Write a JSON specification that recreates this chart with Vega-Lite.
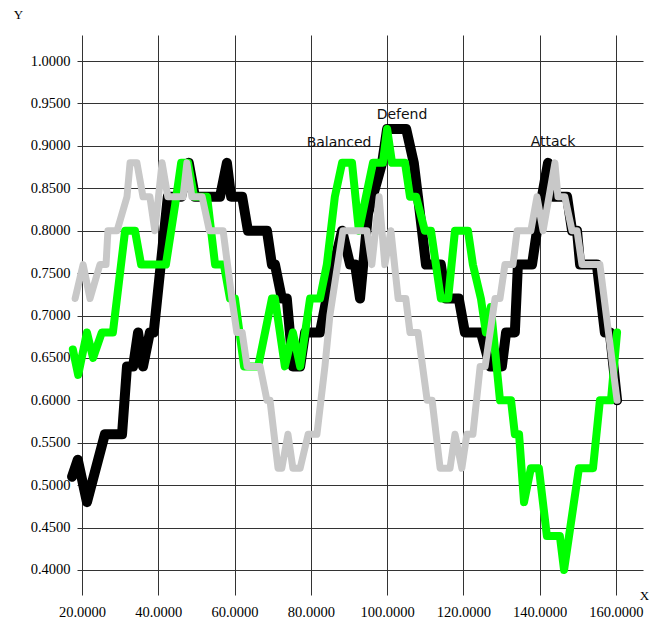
{
  "$schema": "https://vega.github.io/schema/vega-lite/v6.json",
  "width": 566,
  "height": 560,
  "autosize": {"type": "none"},
  "padding": {"left": 77, "top": 35, "right": 13, "bottom": 28},
  "background": "white",
  "config": {"view": {"stroke": null}},
  "datasets": {
    "lines": [
      {"s": "Defend", "x": 17.4, "y": 0.51}, {"s": "Defend", "x": 18.9, "y": 0.53}, {"s": "Defend", "x": 21.3, "y": 0.48}, {"s": "Defend", "x": 26.0, "y": 0.56}, {"s": "Defend", "x": 30.5, "y": 0.56}, {"s": "Defend", "x": 31.8, "y": 0.64}, {"s": "Defend", "x": 33.4, "y": 0.64}, {"s": "Defend", "x": 34.7, "y": 0.68}, {"s": "Defend", "x": 36.0, "y": 0.64}, {"s": "Defend", "x": 37.8, "y": 0.68}, {"s": "Defend", "x": 38.8, "y": 0.68}, {"s": "Defend", "x": 42.5, "y": 0.84}, {"s": "Defend", "x": 46.0, "y": 0.84}, {"s": "Defend", "x": 48.0, "y": 0.88}, {"s": "Defend", "x": 49.6, "y": 0.84}, {"s": "Defend", "x": 56.2, "y": 0.84}, {"s": "Defend", "x": 58.0, "y": 0.88}, {"s": "Defend", "x": 59.1, "y": 0.84}, {"s": "Defend", "x": 62.0, "y": 0.84}, {"s": "Defend", "x": 63.5, "y": 0.80}, {"s": "Defend", "x": 68.5, "y": 0.80}, {"s": "Defend", "x": 69.8, "y": 0.76}, {"s": "Defend", "x": 70.6, "y": 0.76}, {"s": "Defend", "x": 72.4, "y": 0.72}, {"s": "Defend", "x": 73.7, "y": 0.72}, {"s": "Defend", "x": 75.3, "y": 0.64}, {"s": "Defend", "x": 77.2, "y": 0.64}, {"s": "Defend", "x": 78.5, "y": 0.68}, {"s": "Defend", "x": 82.4, "y": 0.68}, {"s": "Defend", "x": 85.0, "y": 0.74}, {"s": "Defend", "x": 88.2, "y": 0.80}, {"s": "Defend", "x": 90.3, "y": 0.76}, {"s": "Defend", "x": 91.6, "y": 0.76}, {"s": "Defend", "x": 92.9, "y": 0.72}, {"s": "Defend", "x": 95.0, "y": 0.82}, {"s": "Defend", "x": 98.7, "y": 0.88}, {"s": "Defend", "x": 100.0, "y": 0.92}, {"s": "Defend", "x": 105.0, "y": 0.92}, {"s": "Defend", "x": 107.0, "y": 0.88}, {"s": "Defend", "x": 108.1, "y": 0.84}, {"s": "Defend", "x": 110.2, "y": 0.76}, {"s": "Defend", "x": 114.1, "y": 0.76}, {"s": "Defend", "x": 115.4, "y": 0.72}, {"s": "Defend", "x": 118.8, "y": 0.72}, {"s": "Defend", "x": 120.4, "y": 0.68}, {"s": "Defend", "x": 124.6, "y": 0.68}, {"s": "Defend", "x": 127.0, "y": 0.64}, {"s": "Defend", "x": 130.1, "y": 0.64}, {"s": "Defend", "x": 131.2, "y": 0.68}, {"s": "Defend", "x": 133.5, "y": 0.68}, {"s": "Defend", "x": 134.3, "y": 0.76}, {"s": "Defend", "x": 138.0, "y": 0.76}, {"s": "Defend", "x": 139.3, "y": 0.80}, {"s": "Defend", "x": 140.6, "y": 0.84}, {"s": "Defend", "x": 142.2, "y": 0.88}, {"s": "Defend", "x": 143.5, "y": 0.84}, {"s": "Defend", "x": 147.2, "y": 0.84}, {"s": "Defend", "x": 148.5, "y": 0.80}, {"s": "Defend", "x": 149.8, "y": 0.80}, {"s": "Defend", "x": 150.6, "y": 0.76}, {"s": "Defend", "x": 155.0, "y": 0.76}, {"s": "Defend", "x": 157.1, "y": 0.68}, {"s": "Defend", "x": 158.4, "y": 0.68}, {"s": "Defend", "x": 160.3, "y": 0.60},
      {"s": "Balanced", "x": 17.6, "y": 0.66}, {"s": "Balanced", "x": 19.0, "y": 0.63}, {"s": "Balanced", "x": 21.3, "y": 0.68}, {"s": "Balanced", "x": 22.9, "y": 0.65}, {"s": "Balanced", "x": 25.2, "y": 0.68}, {"s": "Balanced", "x": 28.1, "y": 0.68}, {"s": "Balanced", "x": 31.3, "y": 0.80}, {"s": "Balanced", "x": 33.9, "y": 0.80}, {"s": "Balanced", "x": 35.5, "y": 0.76}, {"s": "Balanced", "x": 42.0, "y": 0.76}, {"s": "Balanced", "x": 44.4, "y": 0.83}, {"s": "Balanced", "x": 46.0, "y": 0.88}, {"s": "Balanced", "x": 47.8, "y": 0.88}, {"s": "Balanced", "x": 49.4, "y": 0.84}, {"s": "Balanced", "x": 52.8, "y": 0.84}, {"s": "Balanced", "x": 54.9, "y": 0.76}, {"s": "Balanced", "x": 57.2, "y": 0.76}, {"s": "Balanced", "x": 58.8, "y": 0.72}, {"s": "Balanced", "x": 60.1, "y": 0.72}, {"s": "Balanced", "x": 62.5, "y": 0.64}, {"s": "Balanced", "x": 66.2, "y": 0.64}, {"s": "Balanced", "x": 69.8, "y": 0.72}, {"s": "Balanced", "x": 70.6, "y": 0.72}, {"s": "Balanced", "x": 73.2, "y": 0.64}, {"s": "Balanced", "x": 75.3, "y": 0.68}, {"s": "Balanced", "x": 77.2, "y": 0.64}, {"s": "Balanced", "x": 79.8, "y": 0.72}, {"s": "Balanced", "x": 82.4, "y": 0.72}, {"s": "Balanced", "x": 84.2, "y": 0.76}, {"s": "Balanced", "x": 86.3, "y": 0.84}, {"s": "Balanced", "x": 88.2, "y": 0.88}, {"s": "Balanced", "x": 90.8, "y": 0.88}, {"s": "Balanced", "x": 92.6, "y": 0.80}, {"s": "Balanced", "x": 96.3, "y": 0.88}, {"s": "Balanced", "x": 98.9, "y": 0.88}, {"s": "Balanced", "x": 100.0, "y": 0.92}, {"s": "Balanced", "x": 101.3, "y": 0.88}, {"s": "Balanced", "x": 104.7, "y": 0.88}, {"s": "Balanced", "x": 106.0, "y": 0.84}, {"s": "Balanced", "x": 107.6, "y": 0.84}, {"s": "Balanced", "x": 109.9, "y": 0.80}, {"s": "Balanced", "x": 111.5, "y": 0.80}, {"s": "Balanced", "x": 114.1, "y": 0.72}, {"s": "Balanced", "x": 116.0, "y": 0.72}, {"s": "Balanced", "x": 117.8, "y": 0.80}, {"s": "Balanced", "x": 121.2, "y": 0.80}, {"s": "Balanced", "x": 122.5, "y": 0.76}, {"s": "Balanced", "x": 124.6, "y": 0.72}, {"s": "Balanced", "x": 125.9, "y": 0.68}, {"s": "Balanced", "x": 127.2, "y": 0.71}, {"s": "Balanced", "x": 129.6, "y": 0.60}, {"s": "Balanced", "x": 132.5, "y": 0.60}, {"s": "Balanced", "x": 133.5, "y": 0.56}, {"s": "Balanced", "x": 134.6, "y": 0.56}, {"s": "Balanced", "x": 135.9, "y": 0.48}, {"s": "Balanced", "x": 137.7, "y": 0.52}, {"s": "Balanced", "x": 139.8, "y": 0.52}, {"s": "Balanced", "x": 141.9, "y": 0.44}, {"s": "Balanced", "x": 145.3, "y": 0.44}, {"s": "Balanced", "x": 146.4, "y": 0.40}, {"s": "Balanced", "x": 147.7, "y": 0.44}, {"s": "Balanced", "x": 150.3, "y": 0.52}, {"s": "Balanced", "x": 154.0, "y": 0.52}, {"s": "Balanced", "x": 155.8, "y": 0.60}, {"s": "Balanced", "x": 158.7, "y": 0.60}, {"s": "Balanced", "x": 160.3, "y": 0.68},
      {"s": "Attack", "x": 18.2, "y": 0.72}, {"s": "Attack", "x": 20.3, "y": 0.76}, {"s": "Attack", "x": 22.1, "y": 0.72}, {"s": "Attack", "x": 24.7, "y": 0.76}, {"s": "Attack", "x": 26.3, "y": 0.76}, {"s": "Attack", "x": 26.8, "y": 0.80}, {"s": "Attack", "x": 29.2, "y": 0.80}, {"s": "Attack", "x": 31.8, "y": 0.84}, {"s": "Attack", "x": 32.6, "y": 0.88}, {"s": "Attack", "x": 34.4, "y": 0.88}, {"s": "Attack", "x": 36.0, "y": 0.84}, {"s": "Attack", "x": 37.8, "y": 0.84}, {"s": "Attack", "x": 39.1, "y": 0.80}, {"s": "Attack", "x": 41.0, "y": 0.88}, {"s": "Attack", "x": 42.5, "y": 0.84}, {"s": "Attack", "x": 46.5, "y": 0.84}, {"s": "Attack", "x": 47.5, "y": 0.88}, {"s": "Attack", "x": 48.8, "y": 0.84}, {"s": "Attack", "x": 51.5, "y": 0.84}, {"s": "Attack", "x": 53.4, "y": 0.80}, {"s": "Attack", "x": 57.0, "y": 0.80}, {"s": "Attack", "x": 59.3, "y": 0.72}, {"s": "Attack", "x": 60.6, "y": 0.68}, {"s": "Attack", "x": 62.0, "y": 0.68}, {"s": "Attack", "x": 63.3, "y": 0.64}, {"s": "Attack", "x": 66.7, "y": 0.64}, {"s": "Attack", "x": 68.5, "y": 0.60}, {"s": "Attack", "x": 69.3, "y": 0.60}, {"s": "Attack", "x": 71.4, "y": 0.52}, {"s": "Attack", "x": 72.4, "y": 0.52}, {"s": "Attack", "x": 74.0, "y": 0.56}, {"s": "Attack", "x": 75.3, "y": 0.52}, {"s": "Attack", "x": 77.2, "y": 0.52}, {"s": "Attack", "x": 79.3, "y": 0.56}, {"s": "Attack", "x": 81.6, "y": 0.56}, {"s": "Attack", "x": 83.7, "y": 0.64}, {"s": "Attack", "x": 85.0, "y": 0.70}, {"s": "Attack", "x": 88.4, "y": 0.80}, {"s": "Attack", "x": 94.7, "y": 0.80}, {"s": "Attack", "x": 96.0, "y": 0.76}, {"s": "Attack", "x": 97.9, "y": 0.84}, {"s": "Attack", "x": 99.4, "y": 0.76}, {"s": "Attack", "x": 101.0, "y": 0.80}, {"s": "Attack", "x": 102.9, "y": 0.72}, {"s": "Attack", "x": 104.9, "y": 0.72}, {"s": "Attack", "x": 106.0, "y": 0.68}, {"s": "Attack", "x": 108.1, "y": 0.68}, {"s": "Attack", "x": 110.5, "y": 0.60}, {"s": "Attack", "x": 111.8, "y": 0.60}, {"s": "Attack", "x": 113.9, "y": 0.52}, {"s": "Attack", "x": 116.5, "y": 0.52}, {"s": "Attack", "x": 117.8, "y": 0.56}, {"s": "Attack", "x": 119.6, "y": 0.52}, {"s": "Attack", "x": 120.9, "y": 0.56}, {"s": "Attack", "x": 122.5, "y": 0.56}, {"s": "Attack", "x": 124.4, "y": 0.64}, {"s": "Attack", "x": 125.7, "y": 0.64}, {"s": "Attack", "x": 128.3, "y": 0.72}, {"s": "Attack", "x": 129.6, "y": 0.72}, {"s": "Attack", "x": 130.9, "y": 0.76}, {"s": "Attack", "x": 133.0, "y": 0.76}, {"s": "Attack", "x": 134.1, "y": 0.80}, {"s": "Attack", "x": 137.7, "y": 0.80}, {"s": "Attack", "x": 139.3, "y": 0.84}, {"s": "Attack", "x": 140.9, "y": 0.80}, {"s": "Attack", "x": 144.0, "y": 0.88}, {"s": "Attack", "x": 144.8, "y": 0.84}, {"s": "Attack", "x": 146.6, "y": 0.84}, {"s": "Attack", "x": 148.5, "y": 0.80}, {"s": "Attack", "x": 149.8, "y": 0.80}, {"s": "Attack", "x": 151.1, "y": 0.76}, {"s": "Attack", "x": 155.8, "y": 0.76}, {"s": "Attack", "x": 160.3, "y": 0.60}
    ],
    "labels": [
      {"label": "Balanced", "x": 87.4, "y": 0.903},
      {"label": "Defend", "x": 103.9, "y": 0.936},
      {"label": "Attack", "x": 143.5, "y": 0.905}
    ]
  },
  "encoding": {
    "x": {
      "field": "x", "type": "quantitative",
      "scale": {"domain": [18.69, 167.1], "nice": false, "zero": false},
      "axis": {
        "values": [20, 40, 60, 80, 100, 120, 140, 160],
        "format": ".4f",
        "grid": true, "gridColor": "#333333", "gridWidth": 1, "gridOpacity": 1,
        "domain": false, "ticks": false, "tickSize": 0,
        "labelFont": "Liberation Serif", "labelFontSize": 14.5, "labelColor": "#000000",
        "labelBaseline": "middle", "labelPadding": 17, "labelFlush": false,
        "title": "X", "titleFont": "Liberation Serif", "titleFontSize": 13, "titleFontWeight": "normal",
        "titleColor": "#000000", "titleX": 567, "titleY": 0, "titleAlign": "center", "titleBaseline": "middle"
      }
    },
    "y": {
      "field": "y", "type": "quantitative",
      "scale": {"domain": [0.3705, 1.0307], "nice": false, "zero": false},
      "axis": {
        "values": [0.4, 0.45, 0.5, 0.55, 0.6, 0.65, 0.7, 0.75, 0.8, 0.85, 0.9, 0.95, 1.0],
        "format": ".4f",
        "grid": true, "gridColor": "#333333", "gridWidth": 1, "gridOpacity": 1,
        "domain": false, "ticks": false, "tickSize": 0,
        "labelFont": "Liberation Serif", "labelFontSize": 14.5, "labelColor": "#000000",
        "labelPadding": 7, "labelFlush": false,
        "title": "Y", "titleFont": "Liberation Serif", "titleFontSize": 13, "titleFontWeight": "normal",
        "titleColor": "#000000", "titleAngle": 0, "titleX": -59, "titleY": -21, "titleAlign": "center", "titleBaseline": "middle"
      }
    }
  },
  "layer": [
    {
      "data": {"name": "lines"},
      "transform": [{"filter": "datum.s === 'Defend'"}],
      "mark": {"type": "line", "color": "#000000", "strokeWidth": 10, "strokeJoin": "round", "strokeCap": "round"},
      "encoding": {"order": {"field": "x", "type": "quantitative"}}
    },
    {
      "data": {"name": "lines"},
      "transform": [{"filter": "datum.s === 'Balanced'"}],
      "mark": {"type": "line", "color": "#00ff00", "strokeWidth": 8, "strokeJoin": "round", "strokeCap": "round"},
      "encoding": {"order": {"field": "x", "type": "quantitative"}}
    },
    {
      "data": {"name": "lines"},
      "transform": [{"filter": "datum.s === 'Attack'"}],
      "mark": {"type": "line", "color": "#c8c8c8", "strokeWidth": 7, "strokeJoin": "round", "strokeCap": "round"},
      "encoding": {"order": {"field": "x", "type": "quantitative"}}
    },
    {
      "data": {"name": "labels"},
      "mark": {"type": "text", "font": "DejaVu Sans", "fontSize": 14, "color": "#111111", "align": "center", "baseline": "middle"},
      "encoding": {"text": {"field": "label"}}
    }
  ]
}
